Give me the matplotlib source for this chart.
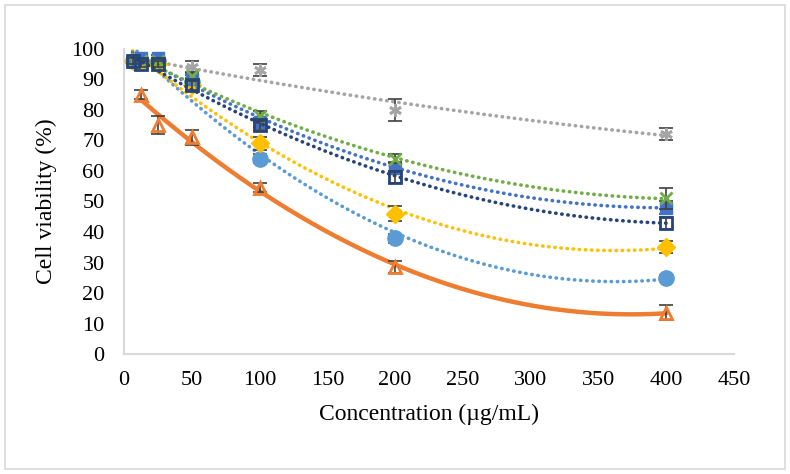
import numpy as np
import matplotlib.pyplot as plt
from matplotlib.patches import Rectangle

plt.rcParams['font.family'] = ['Liberation Serif', 'DejaVu Serif']

conc = [6.25, 12.5, 25, 50, 100, 200, 400]

# values and error bars per sample
light_blue = [96, 96, 96, 89, 64, 38, 25]
light_blue_err = [1, 1, 1, 1.5, 1.5, 1.5, 1]
orange_x = [12.5, 25, 50, 100, 200, 400]
orange = [85, 75, 71, 54.5, 28.5, 13.5]
orange_err = [1.5, 3, 2.5, 1.5, 2, 2.5]
gray = [96, 96, 96, 94, 93, 80, 72]
gray_err = [1, 1, 1, 2, 2, 3.5, 2]
yellow = [96, 96, 95, 88, 69, 46, 35]
yellow_err = [1, 1, 1, 1.5, 2, 2.5, 2]
blue = [96, 97, 97, 90, 76, 61, 48]
blue_err = [1, 1, 1, 1.5, 1.5, 2, 2]
green = [96, 96, 96, 91, 78, 64, 51]
green_err = [1, 1, 1, 1.5, 1.5, 1.5, 3.5]
navy = [96, 95, 95, 88, 75, 58, 43]
navy_err = [1, 1, 1, 1.5, 1.5, 2, 2]

fig = plt.figure(figsize=(7.9, 4.74), dpi=100)
ax = fig.add_axes([0.157, 0.253, 0.772, 0.644])

def trend(x, y, color, ls, lw, z):
    c = np.polyfit(x, y, 2)
    xs = np.linspace(min(x), max(x), 300)
    ax.plot(xs, np.polyval(c, xs), color=color, ls=ls, lw=lw, zorder=z,
            dash_capstyle='round', solid_capstyle='round')

dot = (0, (0.1, 1.6))
series = [
    (conc, light_blue, light_blue_err, '#5B9BD5', 'o', 'full', dot, 2.6),
    (orange_x, orange, orange_err, '#ED7D31', '^', 'none', '-', 3.2),
    (conc, gray, gray_err, '#A5A5A5', (6, 2, 0), 'full', dot, 2.6),
    (conc, yellow, yellow_err, '#FFC000', 'D', 'full', dot, 2.6),
    (conc, blue, blue_err, '#4472C4', 's', 'full', dot, 2.6),
    (conc, green, green_err, '#70AD47', 'x', 'full', dot, 2.6),
    (conc, navy, navy_err, '#264478', 's', 'none', dot, 2.6),
]
for i, (x, y, e, col, mk, fill, ls, lw) in enumerate(series):
    trend(x, y, col, ls, lw, 2 + i)
    ms = 11 if mk == 'o' else 9
    ax.errorbar(x, y, yerr=e, fmt='none', ecolor='#404040', elinewidth=1.2,
                capsize=5, capthick=1.2, zorder=3 + i)
    ax.plot(x, y, ls='none', marker=mk, ms=ms, color=col, fillstyle=fill,
            mew=2 if fill == 'none' or mk in ('x', (6, 2, 0)) else 1,
            mfc='none' if fill == 'none' else col, zorder=3 + i)

ax.set_xlim(0, 450)
ax.set_ylim(0, 100)
ax.set_xticks(range(0, 451, 50))
ax.set_yticks(range(0, 101, 10))
ax.tick_params(length=0, labelsize=16, pad=12)
ax.tick_params(axis='y', pad=14)
for s in ('top', 'right'):
    ax.spines[s].set_visible(False)
for s in ('left', 'bottom'):
    ax.spines[s].set_color('#D9D9D9')
    ax.spines[s].set_linewidth(1.5)
ax.set_xlabel('Concentration (µg/mL)', fontsize=17, labelpad=10)
ax.set_ylabel('Cell viability (%)', fontsize=17, labelpad=10)

fig.patches.append(Rectangle((0.006, 0.01), 0.988, 0.98, transform=fig.transFigure,
                             fill=False, edgecolor='#D9D9D9', lw=1.2))

fig.savefig('out.png', dpi=100)
